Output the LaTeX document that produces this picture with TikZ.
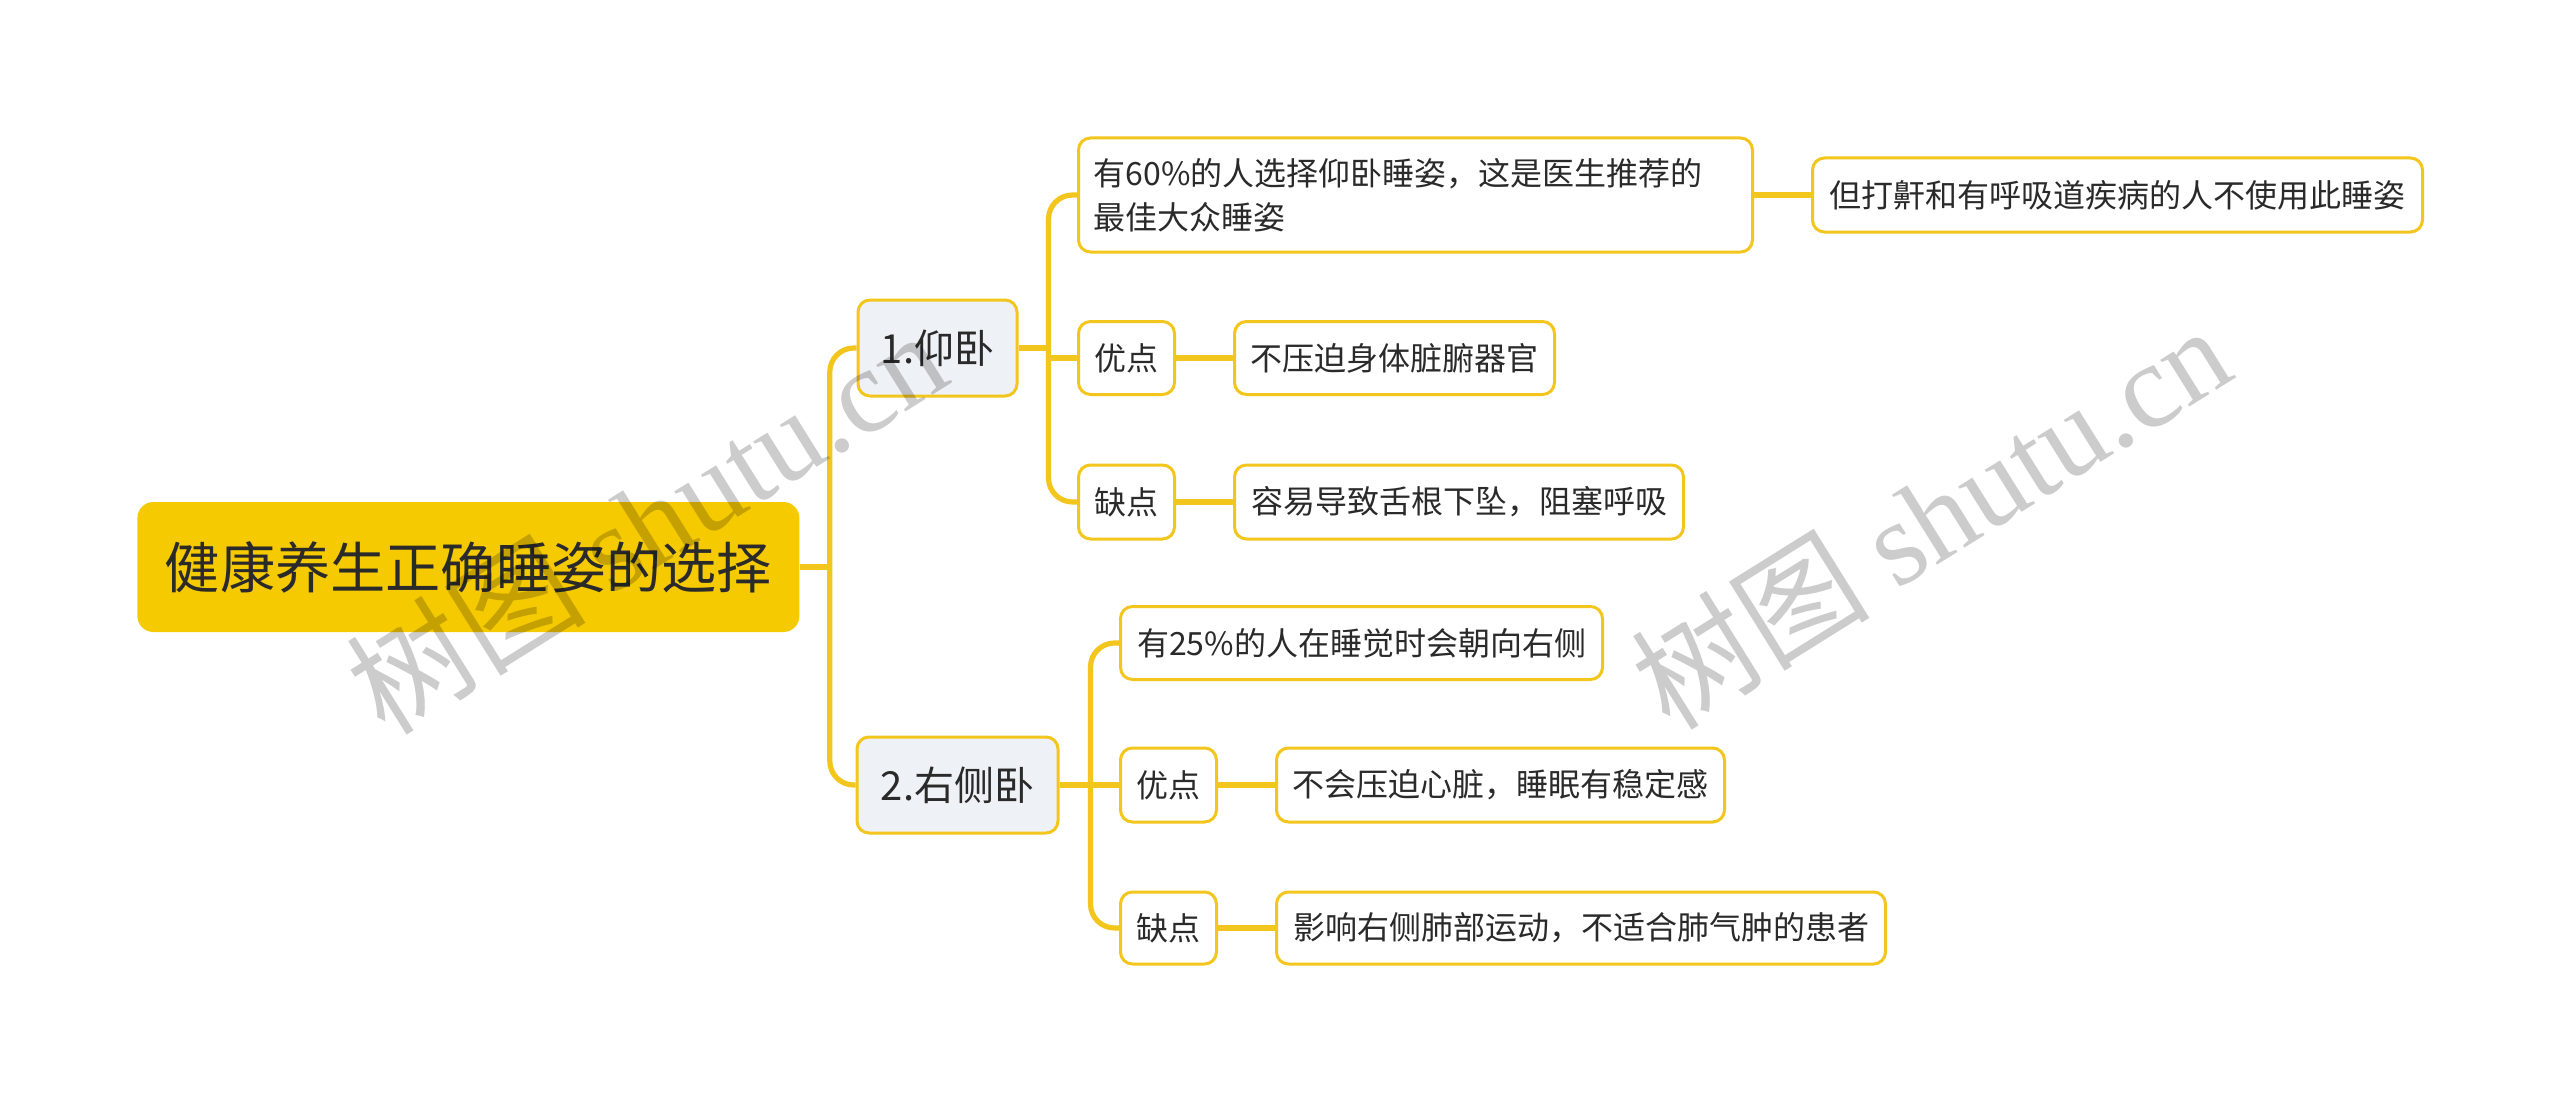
\documentclass[tikz,border=0pt]{standalone}
\usepackage{fontspec}
\setmainfont{Noto Sans CJK SC}
\newfontfamily\wmlatin{Liberation Serif}
\definecolor{gold}{HTML}{F3C61E}
\definecolor{rootfill}{HTML}{F6CA00}
\definecolor{bfill}{HTML}{EEF1F5}
\definecolor{txt}{HTML}{2A2A2A}
\tikzset{
  box/.style={draw=gold, line width=1.5pt, rounded corners=6pt, text=txt, inner xsep=8pt, inner ysep=0pt},
  rootbox/.style={fill=rootfill, draw=none, rounded corners=8pt, text=txt, font=\fontsize{27.6}{33}\selectfont, inner xsep=0pt, inner ysep=0pt},
  brbox/.style={box, fill=bfill, font=\fontsize{20}{24}\selectfont},
  leaf/.style={box, fill=white, font=\fontsize{16}{22}\selectfont, anchor=west},
  conn/.style={draw=gold, line width=2.6pt},
  wm/.style={text=black, text opacity=0.2, font=\fontsize{60}{64}\selectfont, rotate=32, inner sep=0pt}
}
\begin{document}
\begin{tikzpicture}[x=0.5pt, y=-0.5pt]
\useasboundingbox (0,0) rectangle (2560,1102);
\fill[white] (0,0) rectangle (2560,1102);

% nodes
\node[rootbox, anchor=west, minimum width=331pt, minimum height=65pt] (root) at (137,567) {健康养生正确睡姿的选择};
\node[brbox, minimum width=79.5pt, minimum height=48pt] (b1) at (937.5,348) {1.仰卧};
\node[brbox, minimum width=100.5pt, minimum height=48pt] (b2) at (957.5,785) {2.右侧卧};

\node[leaf, text width=322pt, align=left, minimum height=57pt, inner xsep=7.5pt] (a1) at (1077,195) {有60\%的人选择仰卧睡姿，这是医生推荐的\\最佳大众睡姿};
\node[leaf, minimum width=305pt, minimum height=37pt] (a1r) at (1811,195) {但打鼾和有呼吸道疾病的人不使用此睡姿};
\node[leaf, minimum width=47.5pt, minimum height=36.5pt] (p1) at (1077,358) {优点};
\node[leaf, minimum width=160pt, minimum height=36.5pt] (p1r) at (1233,358) {不压迫身体脏腑器官};
\node[leaf, minimum width=47.5pt, minimum height=37pt] (n1) at (1077,502) {缺点};
\node[leaf, minimum width=224.5pt, minimum height=37pt] (n1r) at (1233,502) {容易导致舌根下坠，阻塞呼吸};

\node[leaf, minimum width=241pt, minimum height=36.5pt] (c1) at (1119,643) {有25\%的人在睡觉时会朝向右侧};
\node[leaf, minimum width=46.5pt, minimum height=37pt] (p2) at (1119,785) {优点};
\node[leaf, minimum width=224pt, minimum height=37pt] (p2r) at (1275,785) {不会压迫心脏，睡眠有稳定感};
\node[leaf, minimum width=46.5pt, minimum height=36pt] (n2) at (1119,928) {缺点};
\node[leaf, minimum width=304.5pt, minimum height=36pt] (n2r) at (1275,928) {影响右侧肺部运动，不适合肺气肿的患者};

% junction points
\coordinate (t0) at ([xshift=15pt]root.east);
\coordinate (t1) at ([xshift=15pt]b1.east);
\coordinate (t2) at ([xshift=15.5pt]b2.east);

% connectors
\draw[conn] (root.east) -- (t0);
\draw[conn, rounded corners=12pt] (b1.west) -| (t0) |- (b2.west);

\draw[conn] (b1.east) -- (t1);
\draw[conn, rounded corners=12pt] (a1.west) -| (t1) |- (n1.west);
\draw[conn] (t1 |- p1.west) -- (p1.west);

\draw[conn] (b2.east) -- (p2.west);
\draw[conn, rounded corners=12pt] (c1.west) -| (t2) |- (n2.west);

\draw[conn] (a1.east) -- (a1r.west);
\draw[conn] (p1.east) -- (p1r.west);
\draw[conn] (n1.east) -- (n1r.west);
\draw[conn] (p2.east) -- (p2r.west);
\draw[conn] (n2.east) -- (n2r.west);

% watermarks
\node[wm] (wm1) at (646,521) {树图 {\wmlatin shutu.cn}};
\node[wm] (wm2) at (1930,516) {树图 {\wmlatin shutu.cn}};
\end{tikzpicture}
\end{document}
